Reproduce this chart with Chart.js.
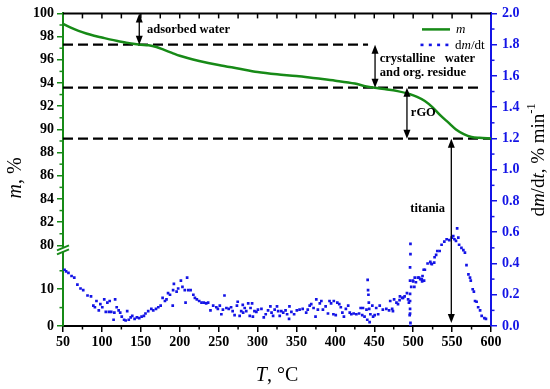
<!DOCTYPE html>
<html>
<head>
<meta charset="utf-8">
<script src="https://cdn.jsdelivr.net/npm/chart.js@4/dist/chart.umd.min.js"></script>
<style>
  html, body { margin: 0; padding: 0; background: #fff; }
  #wrap { width: 550px; height: 389px; }
</style>
</head>
<body>
<div id="wrap"><canvas id="myChart"></canvas></div>
<script>
// mass loss curve (T, %)
const massT = [50, 60, 70, 80, 90, 100, 110, 120, 130, 140, 150, 160, 170, 180, 190, 200, 210, 225, 250, 275,
  300, 325, 350, 375, 400, 425, 440, 460, 480, 495, 505, 515, 525, 535, 545, 555, 565, 575, 585, 600];
const massVal = [99.1, 98.78, 98.5, 98.27, 98.08, 97.92, 97.76, 97.62, 97.5, 97.38, 97.3, 97.25, 97.1, 96.85, 96.6, 96.35, 96.15, 95.9, 95.55, 95.25,
  94.95, 94.75, 94.6, 94.4, 94.2, 93.95, 93.7, 93.5, 93.3, 93.05, 92.8, 92.45, 91.9, 91.2, 90.6, 90.0, 89.6, 89.35, 89.27, 89.22];

// dm/dt points (T, % min-1)
const rateT = [
  52, 54, 57, 61, 64.5, 68.5, 72.5, 76, 81.5, 86,
  89, 91, 93, 96, 98, 100.5, 103, 105, 107, 109,
  110, 112, 115, 116, 117, 119, 121.5, 123.5, 125.5, 128.5,
  130.5, 132.5, 134.5, 137, 139, 142, 145, 148, 151, 154,
  156, 159.5, 163.5, 166, 169.5, 172.5, 175.5, 178, 181, 183,
  185, 187.5, 191, 191.5, 192.5, 196, 198, 201.5, 203.5, 206.5,
  207.5, 209.5, 211, 214, 217.5, 219.5, 222, 225, 228, 231,
  234, 236.5, 239.5, 243, 247, 249, 251.5, 253.5, 255.5, 257.5,
  260, 263, 266, 268, 270.5, 273.5, 274.5, 277, 279, 281,
  281.5, 283.5, 285.5, 288, 290, 291, 293, 294, 296, 298.5,
  300.5, 305, 308, 310.5, 313.5, 316.5, 318, 320, 322, 325,
  326.5, 328.5, 330.5, 333, 336, 338, 340.5, 341, 343.5, 347,
  350.5, 354, 358, 362.5, 364.5, 367, 369, 372, 374.5, 375.5,
  377.5, 380, 382, 384, 387.5, 390.5, 392.5, 394.5, 397.5, 398,
  400.5, 402.5, 405, 407, 409, 411, 413.5, 416.5, 418.5, 420.5,
  423.5, 427, 430.5, 432.5, 434.5, 435.5, 437.5, 440, 441, 441.5,
  442, 442.5, 443, 443.5, 444, 445, 447.5, 448.5, 450.5, 452.5,
  455, 457, 461, 465.5, 469, 470.5, 473, 474, 475.5, 478.5,
  480.5, 482.5, 483, 486, 487, 489, 492, 493.5, 494.5, 495.5,
  496, 496.5, 496.5, 496, 496, 496, 496, 496, 496.5, 496.5,
  497.5, 499.5, 500, 501.5, 502, 503.5, 506, 507.5, 509, 511,
  511.5, 512, 513.5, 514, 515, 518.5, 522, 523, 524, 527,
  527.5, 529.5, 531, 534, 536.5, 540, 543, 546.5, 549.5, 551.5,
  553, 555, 556.5, 558, 559, 562, 564.5, 566.5, 568.5, 571,
  573, 574, 576.5, 578, 579.5, 581.5, 583.5, 586, 588, 591.5,
  593.5
];
const rateVal = [
  0.36, 0.35, 0.34, 0.32, 0.31, 0.265, 0.24, 0.23, 0.195, 0.19,
  0.13, 0.12, 0.16, 0.10, 0.14, 0.12, 0.17, 0.09, 0.15, 0.09,
  0.16, 0.09, 0.04, 0.085, 0.17, 0.12, 0.10, 0.085, 0.06, 0.04,
  0.035, 0.095, 0.04, 0.055, 0.065, 0.045, 0.055, 0.05, 0.06, 0.065,
  0.08, 0.095, 0.11, 0.10, 0.11, 0.12, 0.13, 0.18, 0.16, 0.17,
  0.21, 0.20, 0.13, 0.23, 0.27, 0.22, 0.24, 0.29, 0.25, 0.23,
  0.15, 0.31, 0.23, 0.23, 0.20, 0.18, 0.17, 0.16, 0.15, 0.15,
  0.145, 0.15, 0.10, 0.13, 0.12, 0.11, 0.13, 0.075, 0.105, 0.195,
  0.115, 0.11, 0.12, 0.095, 0.07, 0.13, 0.155, 0.065, 0.095, 0.135,
  0.085, 0.115, 0.095, 0.145, 0.065, 0.115, 0.145, 0.06, 0.095, 0.09,
  0.105, 0.11, 0.055, 0.075, 0.10, 0.125, 0.085, 0.065, 0.105, 0.125,
  0.095, 0.065, 0.095, 0.085, 0.10, 0.075, 0.045, 0.125, 0.09, 0.075,
  0.10, 0.105, 0.11, 0.085, 0.105, 0.13, 0.14, 0.115, 0.06, 0.17,
  0.105, 0.145, 0.16, 0.105, 0.125, 0.08, 0.16, 0.145, 0.075, 0.16,
  0.07, 0.15, 0.14, 0.12, 0.085, 0.06, 0.11, 0.13, 0.085, 0.075,
  0.08, 0.075, 0.08, 0.115, 0.07, 0.115, 0.06, 0.105, 0.04, 0.295,
  0.23, 0.20, 0.15, 0.11, 0.025, 0.075, 0.13, 0.06, 0.07, 0.115,
  0.075, 0.13, 0.105, 0.11, 0.10, 0.16, 0.11, 0.095, 0.17, 0.15,
  0.14, 0.165, 0.19, 0.18, 0.18, 0.19, 0.21, 0.17, 0.15, 0.07,
  0.11, 0.02, 0.0, 0.08, 0.16, 0.205, 0.29, 0.375, 0.46, 0.525,
  0.25, 0.29, 0.285, 0.25, 0.31, 0.28, 0.31, 0.31, 0.30, 0.30,
  0.285, 0.32, 0.36, 0.29, 0.36, 0.40, 0.41, 0.40, 0.395, 0.405,
  0.44, 0.455, 0.48, 0.48, 0.52, 0.54, 0.555, 0.55, 0.565, 0.575,
  0.555, 0.545, 0.625, 0.565, 0.52, 0.50, 0.485, 0.47, 0.39, 0.33,
  0.31, 0.29, 0.235, 0.22, 0.16, 0.155, 0.12, 0.10, 0.065, 0.05,
  0.045
];

// dashed step levels (m, %) and where each dashed line ends (T)
const stepLevel = [97.3, 93.6, 89.2];
const stepEnd = [442, 586, 600];

// tick labels
const xTicks = [50, 100, 150, 200, 250, 300, 350, 400, 450, 500, 550, 600];
const mTicksTop = [80, 82, 84, 86, 88, 90, 92, 94, 96, 98, 100];
const mTicksLow = [0, 10];
const rateTicks = [0, 0.2, 0.4, 0.6, 0.8, 1.0, 1.2, 1.4, 1.6, 1.8, 2.0];

const serif = "'Liberation Serif', 'DejaVu Serif', serif";
const green = '#178a17';
const blue = '#1414e6';
const tickFont = { family: serif, size: 14, weight: 'bold' };

function setTicks(list) {
  return scale => { scale.ticks = list.map(v => ({ value: v })); };
}

const datasets = [
  {
    label: 'm',
    data: massT.map((t, i) => ({ x: t, y: massVal[i] })),
    yAxisID: 'yTop',
    showLine: true,
    borderColor: green,
    borderWidth: 2.5,
    pointRadius: 0,
    cubicInterpolationMode: 'monotone'
  },
  {
    label: 'dm/dt',
    data: rateT.map((t, i) => ({ x: t, y: rateVal[i] })),
    yAxisID: 'y2',
    showLine: false,
    pointStyle: 'rect',
    pointRadius: 1.9,
    backgroundColor: blue,
    borderWidth: 0
  }
];
stepLevel.forEach((lv, i) => {
  datasets.push({
    label: 'step' + i,
    data: [{ x: 50, y: lv }, { x: stepEnd[i], y: lv }],
    yAxisID: 'yTop',
    showLine: true,
    borderColor: '#000',
    borderWidth: 2.2,
    borderDash: [10, 5],
    pointRadius: 0
  });
});

// arrows with their labels
const notes = [
  { t: 148, from: ['yTop', 100], to: ['yTop', 97.3], lines: ['adsorbed water'], lt: 158, ly: ['yTop', 98.6], align: 'left' },
  { t: 451, from: ['yTop', 97.3], to: ['yTop', 93.6], lines: ['crystalline   water', 'and org. residue'], lt: 457, ly: ['yTop', 96.05], align: 'left' },
  { t: 492, from: ['yTop', 93.6], to: ['yTop', 89.2], lines: ['rGO'], lt: 497, ly: ['yTop', 91.4], align: 'left' },
  { t: 549, from: ['yTop', 89.2], to: ['y2', 0], lines: ['titania'], lt: 541, ly: ['y2', 0.75], align: 'right' }
];

function runs(ctx, parts, x, y, size) {
  let cx = x;
  parts.forEach(p => {
    const sz = p.sup ? size * 0.65 : size;
    ctx.font = (p.it ? 'italic ' : '') + sz + 'px ' + serif;
    ctx.fillText(p.t, cx, p.sup ? y - size * 0.4 : y);
    cx += ctx.measureText(p.t).width;
  });
  return cx - x;
}
function runsWidth(ctx, parts, size) {
  let w = 0;
  parts.forEach(p => {
    const sz = p.sup ? size * 0.65 : size;
    ctx.font = (p.it ? 'italic ' : '') + sz + 'px ' + serif;
    w += ctx.measureText(p.t).width;
  });
  return w;
}

const extras = {
  id: 'extras',
  afterDraw(chart) {
    const { ctx, chartArea: a, scales } = chart;
    const x = scales.x;
    const px = (ax, v) => scales[ax].getPixelForValue(v);
    const seg = (x1, y1, x2, y2) => { ctx.beginPath(); ctx.moveTo(x1, y1); ctx.lineTo(x2, y2); ctx.stroke(); };
    ctx.save();

    // top frame with inward ticks
    ctx.strokeStyle = '#000';
    ctx.lineWidth = 2;
    seg(a.left, a.top, a.right, a.top);
    ctx.lineWidth = 1.5;
    for (let t = 75; t < 600; t += 25) { const p = x.getPixelForValue(t); seg(p, a.top, p, a.top + 5); }
    // bottom minor ticks
    for (let t = 75; t < 600; t += 50) { const p = x.getPixelForValue(t); seg(p, a.bottom, p, a.bottom + 3.5); }
    // left minor ticks
    ctx.strokeStyle = green;
    for (let v = 81; v < 100; v += 2) { const p = px('yTop', v); seg(a.left, p, a.left - 3.5, p); }
    [5, 15].forEach(v => { const p = px('yLow', v); seg(a.left, p, a.left - 3.5, p); });
    // right minor ticks
    ctx.strokeStyle = blue;
    for (let v = 0.1; v < 2; v += 0.2) { const p = px('y2', v); seg(a.right, p, a.right + 3.5, p); }

    // axis break
    const by = px('yTop', 80) + 4;
    ctx.fillStyle = '#fff';
    ctx.fillRect(a.left - 3, by - 2, 6, 4);
    ctx.strokeStyle = green;
    ctx.lineWidth = 2;
    seg(a.left - 6, by + 1, a.left + 6, by - 4);
    seg(a.left - 6, by + 5, a.left + 6, by);

    // arrows and labels
    ctx.strokeStyle = '#000';
    ctx.fillStyle = '#000';
    ctx.lineWidth = 1.3;
    notes.forEach(n => {
      const xp = x.getPixelForValue(n.t);
      const y1 = px(n.from[0], n.from[1]);
      const y2 = px(n.to[0], n.to[1]) - (n.to[0] === 'y2' ? 3 : 0);
      seg(xp, y1 + 6, xp, y2 - 6);
      ctx.beginPath(); ctx.moveTo(xp, y1); ctx.lineTo(xp - 3.5, y1 + 9); ctx.lineTo(xp + 3.5, y1 + 9); ctx.closePath(); ctx.fill();
      ctx.beginPath(); ctx.moveTo(xp, y2); ctx.lineTo(xp - 3.5, y2 - 9); ctx.lineTo(xp + 3.5, y2 - 9); ctx.closePath(); ctx.fill();
      ctx.font = 'bold 12.5px ' + serif;
      ctx.textAlign = n.align;
      ctx.textBaseline = 'middle';
      const lx = x.getPixelForValue(n.lt);
      const ly = px(n.ly[0], n.ly[1]);
      n.lines.forEach((s, i) => ctx.fillText(s, lx, ly + i * 13.5));
    });

    // legend
    ctx.textAlign = 'left';
    ctx.textBaseline = 'middle';
    const lgx = a.right - 69, lgy = a.top + 16;
    ctx.strokeStyle = green;
    ctx.lineWidth = 2.5;
    seg(lgx, lgy, lgx + 28, lgy);
    ctx.fillStyle = '#000';
    runs(ctx, [{ t: 'm', it: true }], lgx + 34, lgy, 13);
    ctx.fillStyle = blue;
    for (let k = 0; k < 4; k++) ctx.fillRect(lgx + k * 8.3 - 1.5, lgy + 15.5 - 1.3, 3, 2.6);
    ctx.fillStyle = '#000';
    runs(ctx, [{ t: 'd' }, { t: 'm', it: true }, { t: '/d' }, { t: 't' }], lgx + 33, lgy + 16, 13);

    // axis titles
    ctx.fillStyle = '#000';
    ctx.textBaseline = 'middle';
    const xt = [{ t: 'T', it: true }, { t: ', °C' }];
    const xw = runsWidth(ctx, xt, 20);
    runs(ctx, xt, (a.left + a.right) / 2 - xw / 2, 376, 20);

    const lt = [{ t: 'm', it: true }, { t: ', %' }];
    ctx.save();
    ctx.translate(16, 178);
    ctx.rotate(-Math.PI / 2);
    runs(ctx, lt, -runsWidth(ctx, lt, 20) / 2, 0, 20);
    ctx.restore();

    const rt = [{ t: 'd' }, { t: 'm', it: true }, { t: '/d' }, { t: 't', it: true }, { t: ', % min' }, { t: '-1', sup: true }];
    ctx.save();
    ctx.translate(539, 160);
    ctx.rotate(-Math.PI / 2);
    runs(ctx, rt, -runsWidth(ctx, rt, 19) / 2, 0, 19);
    ctx.restore();

    ctx.restore();
  }
};

new Chart(document.getElementById('myChart'), {
  type: 'scatter',
  data: { datasets: datasets },
  options: {
    responsive: true,
    maintainAspectRatio: false,
    animation: false,
    layout: { padding: { top: 11, left: 0, right: 0, bottom: 0 } },
    plugins: { legend: { display: false }, tooltip: { enabled: false } },
    scales: {
      x: {
        type: 'linear', position: 'bottom', min: 50, max: 600,
        afterBuildTicks: setTicks(xTicks),
        ticks: { color: '#000', font: tickFont, padding: 2, maxRotation: 0, autoSkip: false },
        grid: { drawOnChartArea: false, tickLength: 6, color: '#000', lineWidth: 1.5 },
        border: { color: '#000', width: 2 },
        afterFit: s => { s.height = 63; }
      },
      // left boxes are stacked in reverse order, so the lower segment comes first
      yLow: {
        type: 'linear', position: 'left', stack: 'mass', stackWeight: 81, min: 0, max: 21.9,
        afterBuildTicks: setTicks(mTicksLow),
        ticks: { color: '#000', font: tickFont, padding: 3, autoSkip: false },
        grid: { drawOnChartArea: false, tickLength: 6, color: green, lineWidth: 1.5 },
        border: { color: green, width: 2 },
        afterFit: s => { s.width = 63; }
      },
      yTop: {
        type: 'linear', position: 'left', stack: 'mass', stackWeight: 233, min: 80, max: 100,
        afterBuildTicks: setTicks(mTicksTop),
        ticks: { color: '#000', font: tickFont, padding: 3, autoSkip: false },
        grid: { drawOnChartArea: false, tickLength: 6, color: green, lineWidth: 1.5 },
        border: { color: green, width: 2 },
        afterFit: s => { s.width = 63; }
      },
      y2: {
        type: 'linear', position: 'right', min: 0, max: 2,
        afterBuildTicks: setTicks(rateTicks),
        ticks: { color: blue, font: tickFont, padding: 5, autoSkip: false, callback: v => v.toFixed(1) },
        grid: { drawOnChartArea: false, tickLength: 6, color: blue, lineWidth: 1.5 },
        border: { color: blue, width: 2 },
        afterFit: s => { s.width = 59; }
      }
    }
  },
  plugins: [extras]
});
</script>
</body>
</html>
